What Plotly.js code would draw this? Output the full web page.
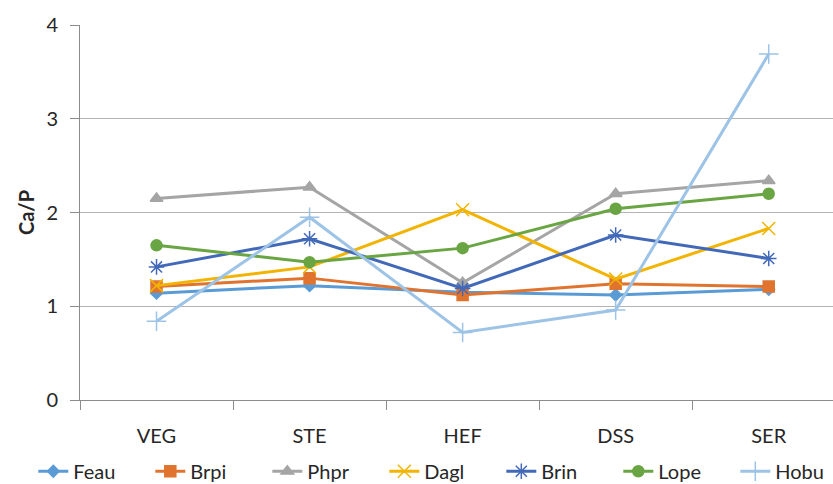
<!DOCTYPE html>
<html>
<head>
<meta charset="utf-8">
<script src="https://cdn.plot.ly/plotly-3.0.1.min.js"></script>
<style>
  html, body { margin: 0; padding: 0; background: #ffffff; }
  #chart { width: 833px; height: 484px; }
</style>
</head>
<body>
<div id="chart"></div>
<script>
// ---------- data ----------
const stages = ["VEG", "STE", "HEF", "DSS", "SER"];

const feau = [1.14, 1.22, 1.15, 1.12, 1.18];
const brpi = [1.21, 1.30, 1.12, 1.24, 1.21];
const phpr = [2.15, 2.27, 1.25, 2.20, 2.34];
const dagl = [1.22, 1.42, 2.03, 1.29, 1.83];
const brin = [1.42, 1.72, 1.19, 1.76, 1.51];
const lope = [1.65, 1.47, 1.62, 2.04, 2.20];
const hobu = [0.84, 1.95, 0.72, 0.96, 3.69];

const seriesNames = ["Feau", "Brpi", "Phpr", "Dagl", "Brin", "Lope", "Hobu"];
const seriesValues = [feau, brpi, phpr, dagl, brin, lope, hobu];

// ---------- styling ----------
const colors = ["#5B9BD5", "#E0742F", "#A5A5A5", "#F2B400", "#4169B8", "#6AA543", "#9DC3E6"];
const symbols = ["diamond", "square", "triangle-up", "x-thin-open", "asterisk-open", "circle", "cross-thin-open"];
const sizes = [9, 11, 11, 13, 13, 11, 14];

const font = "Lato, 'Open Sans', sans-serif";

let traces = seriesNames.map(function (name, i) {
    return {
        x: stages,
        y: seriesValues[i],
        name: name,
        type: "scatter",
        mode: "lines+markers",
        line: { color: colors[i], width: 3 },
        marker: {
            symbol: symbols[i],
            size: sizes[i],
            color: colors[i],
            line: { color: colors[i], width: 1.5 }
        }
    };
});

let layout = {
    width: 833,
    height: 484,
    margin: { l: 80, r: 0, t: 25, b: 84, autoexpand: false },
    paper_bgcolor: "#ffffff",
    plot_bgcolor: "#ffffff",
    font: { family: font, size: 20, color: "#262626" },
    showlegend: true,
    xaxis: {
        type: "category",
        range: [-0.5, 4.42],
        showgrid: false,
        zeroline: false,
        showline: true,
        linecolor: "#8C8C8C",
        linewidth: 1,
        ticks: "outside",
        tickson: "boundaries",
        ticklen: 9,
        tickcolor: "#8C8C8C",
        tickfont: { family: font, size: 20, color: "#262626" },
        ticklabelstandoff: 18
    },
    yaxis: {
        range: [0, 4],
        dtick: 1,
        showgrid: true,
        gridcolor: "#B4B4B4",
        gridwidth: 1,
        zeroline: false,
        showline: true,
        linecolor: "#8C8C8C",
        ticks: "outside",
        ticklen: 9,
        tickcolor: "#8C8C8C",
        tickfont: { family: font, size: 20, color: "#262626" },
        ticklabelstandoff: 8,
        title: {
            text: "<b>Ca/P</b>",
            font: { family: font, size: 20, color: "#262626" },
            standoff: 6
        }
    },
    legend: {
        orientation: "h",
        x: -0.062,
        xanchor: "left",
        y: -0.19,
        yanchor: "middle",
        font: { family: font, size: 20, color: "#262626" },
        entrywidth: 72,
        entrywidthmode: "pixels",
        tracegroupgap: 0
    }
};

Plotly.newPlot("chart", traces, layout, { displayModeBar: false, staticPlot: true });
</script>
</body>
</html>
